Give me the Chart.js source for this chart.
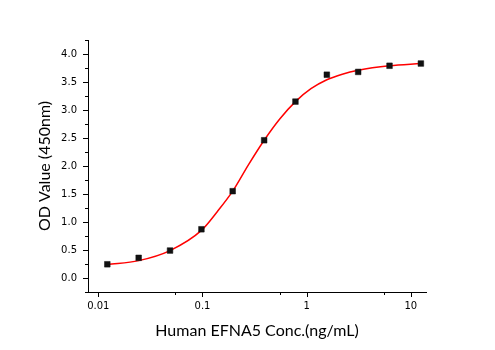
<!DOCTYPE html>
<html>
<head>
<meta charset="utf-8">
<script src="https://cdn.jsdelivr.net/npm/chart.js@4"></script>
<style>
  html, body { margin: 0; padding: 0; background: #fff; }
  canvas { display: block; }
</style>
</head>
<body>
<canvas id="chart" width="495" height="350"></canvas>
<script>
// measured points
const concentrations = [0.0122, 0.0244, 0.0488, 0.0977, 0.195, 0.391, 0.781, 1.5625, 3.125, 6.25, 12.5];
const odValues = [0.245, 0.36, 0.49, 0.87, 1.55, 2.46, 3.15, 3.63, 3.68, 3.79, 3.83];

// fitted curve
const fitConc = [0.0122, 0.0244, 0.0488, 0.0977, 0.138, 0.195, 0.276, 0.391, 0.552, 0.781, 1.1, 1.5625, 2.2, 3.125, 6.25, 12.5];
const fitOD = [0.24, 0.31, 0.49, 0.85, 1.18, 1.55, 2.02, 2.46, 2.84, 3.15, 3.38, 3.54, 3.64, 3.71, 3.79, 3.83];

// axis ticks
const xMajorTicks = [0.01, 0.1, 1, 10];
const xMinorTicks = [0.055, 0.55, 5.5];
const yMajorTicks = [0, 0.5, 1, 1.5, 2, 2.5, 3, 3.5, 4];
const yMinorTicks = [-0.25, 0.25, 0.75, 1.25, 1.75, 2.25, 2.75, 3.25, 3.75, 4.25];

const tickFont = { family: 'DejaVu Sans', size: 10 };
const titleFont = { family: 'Lato', size: 16 };

// short outward tick marks on the two axes
const tickMarks = {
    id: 'tickMarks',
    afterDraw(chart) {
        const ctx = chart.ctx;
        const x = chart.scales.x, y = chart.scales.y;
        const area = chart.chartArea;
        ctx.save();
        ctx.strokeStyle = '#000';
        ctx.lineWidth = 1;
        ctx.beginPath();
        const xTick = (v, len) => {
            const px = Math.round(x.getPixelForValue(v)) + 0.5;
            ctx.moveTo(px, area.bottom);
            ctx.lineTo(px, area.bottom + len);
        };
        const yTick = (v, len) => {
            const py = Math.round(y.getPixelForValue(v)) + 0.5;
            ctx.moveTo(area.left, py);
            ctx.lineTo(area.left - len, py);
        };
        xMajorTicks.forEach(v => xTick(v, 5));
        xMinorTicks.forEach(v => xTick(v, 3));
        yMajorTicks.forEach(v => yTick(v, 5));
        yMinorTicks.forEach(v => yTick(v, 3));
        ctx.stroke();
        ctx.restore();
    }
};

new Chart(document.getElementById('chart'), {
    type: 'scatter',
    data: {
        datasets: [
            {
                label: 'OD',
                data: concentrations.map((c, i) => ({ x: c, y: odValues[i] })),
                pointStyle: 'rect',
                pointRadius: 4,
                backgroundColor: '#111',
                borderColor: '#111',
                borderWidth: 0.5,
                showLine: false
            },
            {
                label: 'Fit',
                data: fitConc.map((c, i) => ({ x: c, y: fitOD[i] })),
                showLine: true,
                borderColor: '#ff0000',
                borderWidth: 1.5,
                pointRadius: 0,
                cubicInterpolationMode: 'monotone'
            }
        ]
    },
    options: {
        responsive: false,
        animation: false,
        layout: { padding: { left: 0, top: 40, right: 69, bottom: 0 } },
        plugins: { legend: { display: false }, tooltip: { enabled: false } },
        scales: {
            x: {
                type: 'logarithmic',
                min: 0.00796,
                max: 14.0,
                grid: { display: false },
                border: { display: true, color: '#000', width: 1 },
                afterBuildTicks: s => { s.ticks = xMajorTicks.map(v => ({ value: v })); },
                afterFit: s => { s.height = 58; },
                ticks: {
                    autoSkip: false,
                    maxRotation: 0,
                    padding: 0,
                    color: '#000',
                    font: tickFont,
                    callback: v => String(v)
                },
                title: {
                    display: true,
                    text: 'Human EFNA5 Conc.(ng/mL)',
                    color: '#000',
                    font: titleFont,
                    padding: { top: 0, bottom: 10 }
                }
            },
            y: {
                min: -0.25,
                max: 4.25,
                grid: { display: false },
                border: { display: true, color: '#000', width: 1 },
                afterBuildTicks: s => { s.ticks = yMajorTicks.map(v => ({ value: v })); },
                afterFit: s => { s.width = 88; },
                ticks: {
                    autoSkip: false,
                    padding: 3,
                    color: '#000',
                    font: tickFont,
                    callback: v => v.toFixed(1)
                },
                title: {
                    display: true,
                    text: 'OD Value (450nm)',
                    color: '#000',
                    font: titleFont,
                    padding: { top: 35, bottom: 0 }
                }
            }
        }
    },
    plugins: [tickMarks]
});
</script>
</body>
</html>
